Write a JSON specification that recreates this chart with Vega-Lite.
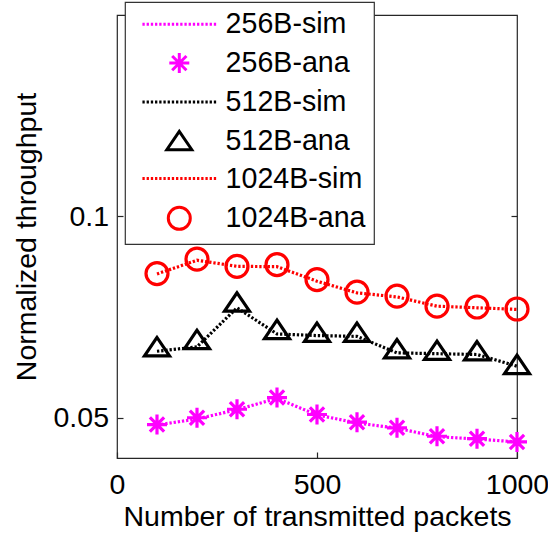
{
  "$schema": "https://vega.github.io/schema/vega-lite/v6.json",
  "width": 400,
  "height": 443,
  "autosize": "none",
  "padding": {"left": 117, "top": 15, "right": 31, "bottom": 77},
  "background": "white",
  "config": {
    "font": "Liberation Sans",
    "view": {"stroke": "#262626", "strokeWidth": 1.2},
    "axis": {
      "labelFont": "Liberation Sans",
      "titleFont": "Liberation Sans",
      "labelFontSize": 28.5,
      "titleFontSize": 28.5,
      "titleFontWeight": "normal",
      "labelColor": "black",
      "titleColor": "black",
      "tickColor": "#262626",
      "domain": false,
      "grid": false,
      "tickSize": -6,
      "tickWidth": 1.2
    },
    "legend": {
      "orient": "none",
      "legendX": 8,
      "legendY": -13,
      "title": null,
      "fillColor": "white",
      "strokeColor": "#333333",
      "strokeWidth": 1.2,
      "padding": 8,
      "labelFont": "Liberation Sans",
      "labelFontSize": 28.6,
      "labelColor": "black",
      "labelLimit": 400,
      "symbolSize": 625,
      "symbolStrokeWidth": 3,
      "symbolOffset": 32,
      "labelOffset": 32,
      "rowPadding": 7.8,
      "symbolFillColor": "transparent"
    }
  },
  "data": {
    "values": [
      {"packets": 100, "series": "256B-sim", "throughput": 0.0482},
      {"packets": 200, "series": "256B-sim", "throughput": 0.0497},
      {"packets": 300, "series": "256B-sim", "throughput": 0.0520},
      {"packets": 400, "series": "256B-sim", "throughput": 0.0548},
      {"packets": 500, "series": "256B-sim", "throughput": 0.0507},
      {"packets": 600, "series": "256B-sim", "throughput": 0.0487},
      {"packets": 700, "series": "256B-sim", "throughput": 0.0474},
      {"packets": 800, "series": "256B-sim", "throughput": 0.0453},
      {"packets": 900, "series": "256B-sim", "throughput": 0.0447},
      {"packets": 1000, "series": "256B-sim", "throughput": 0.0440},
      {"packets": 100, "series": "256B-ana", "throughput": 0.0483},
      {"packets": 200, "series": "256B-ana", "throughput": 0.0500},
      {"packets": 300, "series": "256B-ana", "throughput": 0.0521},
      {"packets": 400, "series": "256B-ana", "throughput": 0.0550},
      {"packets": 500, "series": "256B-ana", "throughput": 0.0508},
      {"packets": 600, "series": "256B-ana", "throughput": 0.0489},
      {"packets": 700, "series": "256B-ana", "throughput": 0.0475},
      {"packets": 800, "series": "256B-ana", "throughput": 0.0454},
      {"packets": 900, "series": "256B-ana", "throughput": 0.0448},
      {"packets": 1000, "series": "256B-ana", "throughput": 0.0440},
      {"packets": 100, "series": "512B-sim", "throughput": 0.0665},
      {"packets": 200, "series": "512B-sim", "throughput": 0.0676},
      {"packets": 300, "series": "512B-sim", "throughput": 0.0773},
      {"packets": 400, "series": "512B-sim", "throughput": 0.0708},
      {"packets": 500, "series": "512B-sim", "throughput": 0.0704},
      {"packets": 600, "series": "512B-sim", "throughput": 0.0702},
      {"packets": 700, "series": "512B-sim", "throughput": 0.0661},
      {"packets": 800, "series": "512B-sim", "throughput": 0.0659},
      {"packets": 900, "series": "512B-sim", "throughput": 0.0657},
      {"packets": 1000, "series": "512B-sim", "throughput": 0.0628},
      {"packets": 100, "series": "512B-ana", "throughput": 0.0676},
      {"packets": 200, "series": "512B-ana", "throughput": 0.0694},
      {"packets": 300, "series": "512B-ana", "throughput": 0.0787},
      {"packets": 400, "series": "512B-ana", "throughput": 0.0719},
      {"packets": 500, "series": "512B-ana", "throughput": 0.0712},
      {"packets": 600, "series": "512B-ana", "throughput": 0.0712},
      {"packets": 700, "series": "512B-ana", "throughput": 0.0671},
      {"packets": 800, "series": "512B-ana", "throughput": 0.0667},
      {"packets": 900, "series": "512B-ana", "throughput": 0.0666},
      {"packets": 1000, "series": "512B-ana", "throughput": 0.0632},
      {"packets": 100, "series": "1024B-sim", "throughput": 0.0857},
      {"packets": 200, "series": "1024B-sim", "throughput": 0.0891},
      {"packets": 300, "series": "1024B-sim", "throughput": 0.0876},
      {"packets": 400, "series": "1024B-sim", "throughput": 0.0875},
      {"packets": 500, "series": "1024B-sim", "throughput": 0.0839},
      {"packets": 600, "series": "1024B-sim", "throughput": 0.0810},
      {"packets": 700, "series": "1024B-sim", "throughput": 0.0800},
      {"packets": 800, "series": "1024B-sim", "throughput": 0.0777},
      {"packets": 900, "series": "1024B-sim", "throughput": 0.0773},
      {"packets": 1000, "series": "1024B-sim", "throughput": 0.0769},
      {"packets": 100, "series": "1024B-ana", "throughput": 0.0858},
      {"packets": 200, "series": "1024B-ana", "throughput": 0.0894},
      {"packets": 300, "series": "1024B-ana", "throughput": 0.0876},
      {"packets": 400, "series": "1024B-ana", "throughput": 0.0880},
      {"packets": 500, "series": "1024B-ana", "throughput": 0.0843},
      {"packets": 600, "series": "1024B-ana", "throughput": 0.0812},
      {"packets": 700, "series": "1024B-ana", "throughput": 0.0802},
      {"packets": 800, "series": "1024B-ana", "throughput": 0.0777},
      {"packets": 900, "series": "1024B-ana", "throughput": 0.0775},
      {"packets": 1000, "series": "1024B-ana", "throughput": 0.0770}
    ]
  },
  "resolve": {"axis": {"y": "independent"}},
  "layer": [
    {
      "transform": [{"filter": "indexof(datum.series, 'sim') >= 0"}],
      "mark": {"type": "line", "strokeWidth": 3.2, "strokeDash": [2.3, 1.9], "strokeCap": "butt"},
      "encoding": {
        "x": {
          "field": "packets", "type": "quantitative",
          "scale": {"domain": [0, 1000], "nice": false, "zero": false},
          "axis": {"title": "Number of transmitted packets", "values": [0, 500, 1000], "format": "d", "labelPadding": 18, "titlePadding": 4, "labelFlush": false}
        },
        "y": {
          "field": "throughput", "type": "quantitative",
          "scale": {"domain": [0.04, 0.15], "nice": false, "zero": false},
          "axis": {"title": "Normalized throughput", "values": [0.05, 0.1], "format": "~g", "labelPadding": 14.5, "titlePadding": 12, "orient": "left"}
        },
        "color": {
          "field": "series", "type": "nominal",
          "scale": {
            "domain": ["256B-sim", "256B-ana", "512B-sim", "512B-ana", "1024B-sim", "1024B-ana"],
            "range": ["#ff00ff", "#ff00ff", "#000000", "#000000", "#ff0000", "#ff0000"]
          }
        },
        "detail": {"field": "series", "type": "nominal"}
      }
    },
    {
      "transform": [{"filter": "indexof(datum.series, 'ana') >= 0"}],
      "mark": {"type": "point", "filled": false, "strokeWidth": 3.2, "size": 625, "opacity": 1},
      "encoding": {
        "x": {"field": "packets", "type": "quantitative"},
        "y": {
          "field": "throughput", "type": "quantitative",
          "axis": {"orient": "right", "labels": false, "title": null, "values": [0.05, 0.1]}
        },
        "color": {
          "field": "series", "type": "nominal",
          "scale": {
            "domain": ["256B-sim", "256B-ana", "512B-sim", "512B-ana", "1024B-sim", "1024B-ana"],
            "range": ["#ff00ff", "#ff00ff", "#000000", "#000000", "#ff0000", "#ff0000"]
          }
        },
        "shape": {
          "field": "series", "type": "nominal",
          "scale": {
            "domain": ["256B-sim", "256B-ana", "512B-sim", "512B-ana", "1024B-sim", "1024B-ana"],
            "range": [
              "M-2.95,0h0.184m0.152,0h0.184m0.152,0h0.184m0.152,0h0.184m0.152,0h0.184m0.152,0h0.184m0.152,0h0.184m0.152,0h0.184m0.152,0h0.184m0.152,0h0.184m0.152,0h0.184m0.152,0h0.184m0.152,0h0.184m0.152,0h0.184m0.152,0h0.184m0.152,0h0.184m0.152,0h0.184m0.152,0h0.184",
              "M0,-0.8V0.8M-0.8,0H0.8M-0.57,-0.57L0.57,0.57M-0.57,0.57L0.57,-0.57",
              "M-2.95,0h0.184m0.152,0h0.184m0.152,0h0.184m0.152,0h0.184m0.152,0h0.184m0.152,0h0.184m0.152,0h0.184m0.152,0h0.184m0.152,0h0.184m0.152,0h0.184m0.152,0h0.184m0.152,0h0.184m0.152,0h0.184m0.152,0h0.184m0.152,0h0.184m0.152,0h0.184m0.152,0h0.184m0.152,0h0.184",
              "M0,-0.75L-1,0.72L1,0.72Z",
              "M-2.95,0h0.184m0.152,0h0.184m0.152,0h0.184m0.152,0h0.184m0.152,0h0.184m0.152,0h0.184m0.152,0h0.184m0.152,0h0.184m0.152,0h0.184m0.152,0h0.184m0.152,0h0.184m0.152,0h0.184m0.152,0h0.184m0.152,0h0.184m0.152,0h0.184m0.152,0h0.184m0.152,0h0.184m0.152,0h0.184",
              "M0.88,0A0.88,0.88,0,1,1,-0.88,0A0.88,0.88,0,1,1,0.88,0Z"
            ]
          }
        }
      }
    }
  ]
}
